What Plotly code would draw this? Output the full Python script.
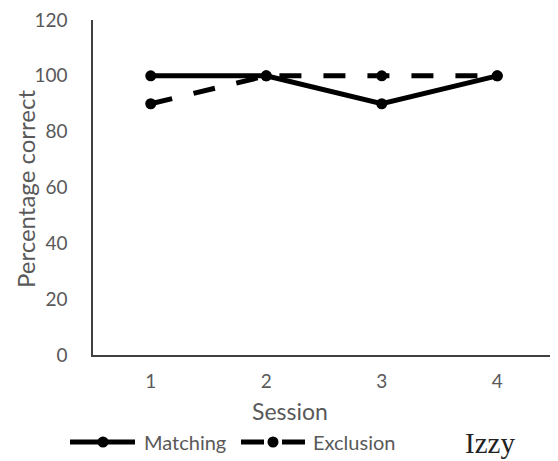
import plotly.graph_objects as go

sessions = ["1", "2", "3", "4"]
matching = [100, 100, 90, 100]
exclusion = [90, 100, 100, 100]
y_ticks = [0, 20, 40, 60, 80, 100, 120]
legend_names = ["Matching", "Exclusion"]
panel_label = "Izzy"
x_title = "Session"
y_title = "Percentage correct"

gray = "#595959"
font_family = "Lato, Carlito, 'Open Sans', sans-serif"

# The page body adds an 8px offset, so the figure is drawn 8px smaller
OFF = 8
W, H = 558 - OFF, 461 - OFF
# plot area (screen pixels): x 93..555, y 20..355
L, T = 93 - OFF, 20 - OFF
R = W - (555 - OFF)
B = H - (355 - OFF)
pw, ph = W - L - R, H - T - B


def px(xs):
    """screen x pixel -> paper coordinate"""
    return (xs - OFF - L) / pw


def py(ys):
    """screen y pixel -> paper coordinate"""
    return (H - B - (ys - OFF)) / ph


fig = go.Figure()
fig.add_trace(go.Scatter(
    x=sessions, y=matching, name=legend_names[0], mode="lines+markers",
    line=dict(color="black", width=5),
    marker=dict(symbol="circle", size=11, color="black"),
    showlegend=False,
))
fig.add_trace(go.Scatter(
    x=sessions, y=exclusion, name=legend_names[1], mode="lines+markers",
    line=dict(color="black", width=5, dash="22px,22px"),
    marker=dict(symbol="circle", size=11, color="black"),
    showlegend=False,
))

fig.update_layout(
    width=W, height=H,
    margin=dict(l=L, r=R, t=T, b=B, autoexpand=False),
    paper_bgcolor="white", plot_bgcolor="white",
    font=dict(family=font_family, color=gray, size=19),
    showlegend=False,
    xaxis=dict(
        type="category", range=[-0.5, 3.5], showgrid=False,
        showline=True, linecolor="#404040", linewidth=1.5,
        ticks="", tickfont=dict(size=19, color=gray), ticklabelstandoff=8,
        automargin=False,
    ),
    yaxis=dict(
        range=[0, 120], tickvals=y_ticks, showgrid=False, zeroline=False,
        showline=True, linecolor="#404040", linewidth=1.5,
        ticks="", tickfont=dict(size=19, color=gray), ticklabelstandoff=20,
        ticklabeloverflow="allow", automargin=False,
    ),
)

# axis titles
fig.add_annotation(text=x_title, xref="paper", yref="paper",
                   x=px(290), y=py(411), xanchor="center", yanchor="middle",
                   showarrow=False, font=dict(size=23, color=gray))
fig.add_annotation(text=y_title, xref="paper", yref="paper",
                   x=px(25), y=py(189), xanchor="center", yanchor="middle",
                   textangle=-90, showarrow=False, font=dict(size=24, color=gray))

# hand-drawn legend (wide legend keys of the original)
ly = 442
shapes = []
shapes.append(dict(type="line", xref="paper", yref="paper",
                   x0=px(70), x1=px(135), y0=py(ly), y1=py(ly),
                   line=dict(color="black", width=5)))
shapes.append(dict(type="line", xref="paper", yref="paper",
                   x0=px(241), x1=px(264), y0=py(ly), y1=py(ly),
                   line=dict(color="black", width=5)))
shapes.append(dict(type="line", xref="paper", yref="paper",
                   x0=px(282), x1=px(305), y0=py(ly), y1=py(ly),
                   line=dict(color="black", width=5)))
for cx in (103, 273):
    shapes.append(dict(type="circle", xref="paper", yref="paper",
                       x0=px(cx - 5.5), x1=px(cx + 5.5),
                       y0=py(ly + 5.5), y1=py(ly - 5.5),
                       fillcolor="black", line=dict(color="black", width=0)))
fig.update_layout(shapes=shapes)

fig.add_annotation(text=legend_names[0], xref="paper", yref="paper",
                   x=px(142), y=py(ly), xanchor="left", yanchor="middle",
                   showarrow=False, font=dict(size=20, color=gray))
fig.add_annotation(text=legend_names[1], xref="paper", yref="paper",
                   x=px(311), y=py(ly), xanchor="left", yanchor="middle",
                   showarrow=False, font=dict(size=20, color=gray))

fig.add_annotation(
    text=panel_label, xref="paper", yref="paper", x=px(490), y=py(443),
    xanchor="center", yanchor="middle", showarrow=False,
    font=dict(family="'Liberation Serif', 'DejaVu Serif', serif", size=29, color="#222222"),
)

fig.write_html("out.html")
